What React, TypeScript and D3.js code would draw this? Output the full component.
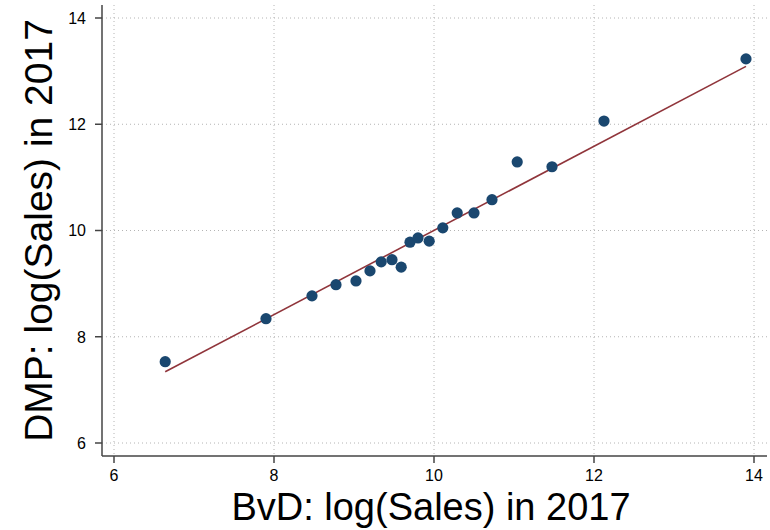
import React from "react";
import * as d3 from "d3";

const bvdSales = [6.64, 7.9, 8.475, 8.775, 9.025, 9.2, 9.34, 9.475, 9.59, 9.7, 9.8, 9.94, 10.11, 10.29, 10.5, 10.725, 11.04, 11.475, 12.125, 13.9];
const dmpSales = [7.53, 8.34, 8.77, 8.98, 9.05, 9.24, 9.41, 9.45, 9.31, 9.78, 9.86, 9.8, 10.05, 10.33, 10.33, 10.58, 11.29, 11.2, 12.06, 13.23];
const fitX = [6.64, 13.9];
const fitY = [7.34, 13.09];
const xTicks = [6, 8, 10, 12, 14];
const yTicks = [6, 8, 10, 12, 14];
const xTitle = "BvD: log(Sales) in 2017";
const yTitle = "DMP: log(Sales) in 2017";

const W = 770, H = 530;
const L = 102, R = 767, T = 5, B = 456;
const FONT = "'Liberation Sans', Arial, Helvetica, sans-serif";

export default function App() {
  const x = d3.scaleLinear().domain([6, 14]).range([114, 754]);
  const y = d3.scaleLinear().domain([6, 14]).range([443, 18]);
  const pts = bvdSales.map((v, i) => [v, dmpSales[i]]);
  const line = d3.line<number>().x((d) => x(fitX[d])).y((d) => y(fitY[d]));
  return (
    <svg width={W} height={H} style={{ position: "absolute", left: 0, top: 0, background: "#fff" }} fontFamily={FONT}>
      <rect x={0} y={0} width={W} height={H} fill="#fff" />
      {xTicks.map((t) => (
        <line key={"gx" + t} x1={x(t)} x2={x(t)} y1={T} y2={B} stroke="#b4b4b4" strokeWidth={1} strokeDasharray="1,3" />
      ))}
      {yTicks.map((t) => (
        <line key={"gy" + t} x1={L} x2={R} y1={y(t)} y2={y(t)} stroke="#b4b4b4" strokeWidth={1} strokeDasharray="1,3" />
      ))}
      <path d={line([0, 1]) || ""} fill="none" stroke="#90353b" strokeWidth={1.6} />
      {pts.map((p, i) => (
        <circle key={i} cx={x(p[0])} cy={y(p[1])} r={5.6} fill="#1a476f" />
      ))}
      <line x1={L} x2={L} y1={T} y2={B} stroke="#444" strokeWidth={1.5} />
      <line x1={L} x2={R} y1={B} y2={B} stroke="#444" strokeWidth={1.5} />
      {yTicks.map((t) => (
        <g key={"ty" + t}>
          <line x1={L - 7} x2={L} y1={y(t)} y2={y(t)} stroke="#444" strokeWidth={1.5} />
          <text x={L - 16} y={y(t)} dy="0.36em" textAnchor="end" fontSize={16} fill="#000">{t}</text>
        </g>
      ))}
      {xTicks.map((t) => (
        <g key={"tx" + t}>
          <line x1={x(t)} x2={x(t)} y1={B} y2={B + 7} stroke="#444" strokeWidth={1.5} />
          <text x={x(t)} y={B + 25} textAnchor="middle" fontSize={16} fill="#000">{t}</text>
        </g>
      ))}
      <text x={431} y={520} textAnchor="middle" fontSize={38} fill="#000">{xTitle}</text>
      <text transform={`translate(52,230.5) rotate(-90)`} textAnchor="middle" fontSize={39} fill="#000">{yTitle}</text>
    </svg>
  );
}
